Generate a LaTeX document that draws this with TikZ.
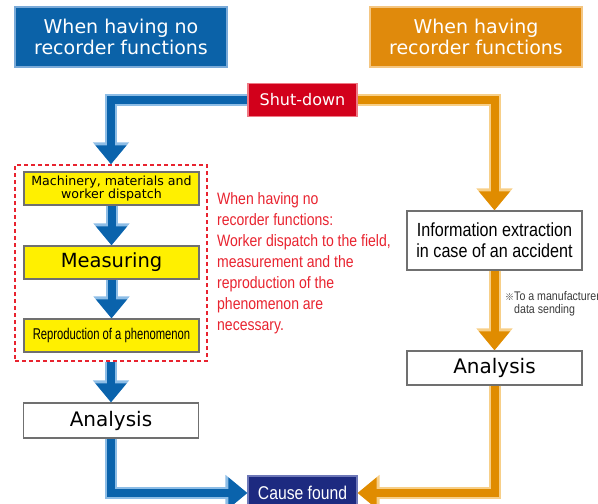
\documentclass[tikz,border=0pt]{standalone}
\usepackage{fontspec}
\setmainfont{DejaVu Sans}
\newfontfamily\condfont[FakeStretch=0.85]{Liberation Sans}
\newfontfamily\narrowfont[FakeStretch=0.72]{Liberation Sans}
\newfontfamily\cjkfont{Noto Sans CJK JP}
\usetikzlibrary{arrows.meta}

\definecolor{hdrblue}{HTML}{0B62A8}
\definecolor{hdrblueedge}{HTML}{7AAAD8}
\definecolor{hdrorange}{HTML}{E08A0C}
\definecolor{hdrorangeedge}{HTML}{F4C682}
\definecolor{stopred}{HTML}{D2001B}
\definecolor{stopredge}{HTML}{EE7A85}
\definecolor{causenavy}{HTML}{1D2A80}
\definecolor{causeedge}{HTML}{6E78B8}
\definecolor{stepyellow}{HTML}{FFF000}
\definecolor{boxgray}{HTML}{707070}
\definecolor{notered}{HTML}{E8232F}
\definecolor{notegray}{HTML}{3A3A3A}
\definecolor{pipeblue}{HTML}{0A63AC}
\definecolor{pipebluelight}{HTML}{8DBDE6}
\definecolor{pipeorange}{HTML}{E08C00}
\definecolor{pipeorangelight}{HTML}{F7CF88}

% a thick flow pipe: light rim first, dark core on top
\newcommand\flowpipe[3]{%
  \draw[line width=12pt, draw=#1, -{Triangle[width=35pt,length=22pt]}] #3;
  \draw[line width=8pt, draw=#2, -{Triangle[width=30pt,length=19pt]}] #3;
}

\tikzset{
  header/.style={minimum width=212pt, minimum height=60pt, inner sep=0pt,
    line width=2.5pt, align=center, text=white,
    font=\fontsize{19}{21}\selectfont},
  stepbox/.style={fill=stepyellow, draw=boxgray, line width=1.3pt,
    minimum width=175pt, minimum height=33pt, inner sep=0pt, align=center},
  resultbox/.style={fill=white, draw=boxgray, line width=1.3pt,
    minimum width=175pt, inner sep=0pt, align=center},
  tagbox/.style={minimum width=109pt, minimum height=33pt, inner sep=0pt,
    line width=1.2pt, text=white},
}

\begin{document}
\begin{tikzpicture}[x=1pt,y=-1pt]
\useasboundingbox (0,0) rectangle (598,504);

% column headers
\node[header, fill=hdrblue, draw=hdrblueedge] (hdrL) at (121,37)
  {When having no\\recorder functions};
\node[header, fill=hdrorange, draw=hdrorangeedge] (hdrR) at (476,37)
  {When having\\recorder functions};

% start and end
\node[tagbox, fill=stopred, draw=stopredge, font=\fontsize{16}{18}\selectfont]
  (shut) at (302.5,100) {Shut-down};
\node[tagbox, fill=causenavy, draw=causeedge, minimum height=34pt,
  font=\condfont\fontsize{18.5}{20}\selectfont]
  (cause) at (302.5,493) {Cause found};

% left column: field work
\node[draw=notered, dashed, dash pattern=on 4pt off 3pt, line width=1.5pt,
  minimum width=192pt, minimum height=196pt, inner sep=0pt] (grp) at (111,263) {};
\node[stepbox, font=\fontsize{12.6}{13}\selectfont] (mach) at (111.5,188.5)
  {Machinery, materials and\\worker dispatch};
\node[stepbox, font=\fontsize{19.5}{21}\selectfont] (meas) at (111.5,262.5)
  {Measuring};
\node[stepbox, font=\narrowfont\fontsize{15.6}{17}\selectfont] (repro) at (111.5,335.5)
  {Reproduction of a phenomenon};
\node[resultbox, minimum height=35pt, font=\fontsize{20}{22}\selectfont]
  (anaL) at (111,420.5) {Analysis};

% explanation
\node[anchor=north west, inner sep=0pt, align=left, text=notered,
  font=\condfont\fontsize{16.5}{21}\selectfont] (why) at (217,192)
  {When having no\\recorder functions:\\Worker dispatch to the field,\\measurement and the\\reproduction of the\\phenomenon are\\necessary.};

% right column: recorder data
\node[resultbox, minimum height=59pt, font=\condfont\fontsize{19}{21}\selectfont]
  (info) at (494.5,240.5) {Information extraction\\in case of an accident};
\node[resultbox, minimum height=34pt, font=\fontsize{20}{22}\selectfont]
  (anaR) at (494.5,368) {Analysis};
\node[anchor=north west, inner sep=0pt, align=left, text=notegray,
  font=\condfont\fontsize{12.5}{13.5}\selectfont] (send) at (505,291)
  {{\cjkfont\fontsize{9}{9}\selectfont ※}To a manufacturer\\\hspace*{9pt}data sending};

% flow
\flowpipe{pipebluelight}{pipeblue}{(shut.west) -| (grp.north)}
\flowpipe{pipebluelight}{pipeblue}{(mach.south) -- (meas.north)}
\flowpipe{pipebluelight}{pipeblue}{(meas.south) -- (repro.north)}
\flowpipe{pipebluelight}{pipeblue}{(grp.south) -- (anaL.north)}
\flowpipe{pipebluelight}{pipeblue}{(anaL.south) |- (cause.west)}
\flowpipe{pipeorangelight}{pipeorange}{(shut.east) -| (info.north)}
\flowpipe{pipeorangelight}{pipeorange}{(info.south) -- (anaR.north)}
\flowpipe{pipeorangelight}{pipeorange}{(anaR.south) |- (cause.east)}
\end{tikzpicture}
\end{document}
